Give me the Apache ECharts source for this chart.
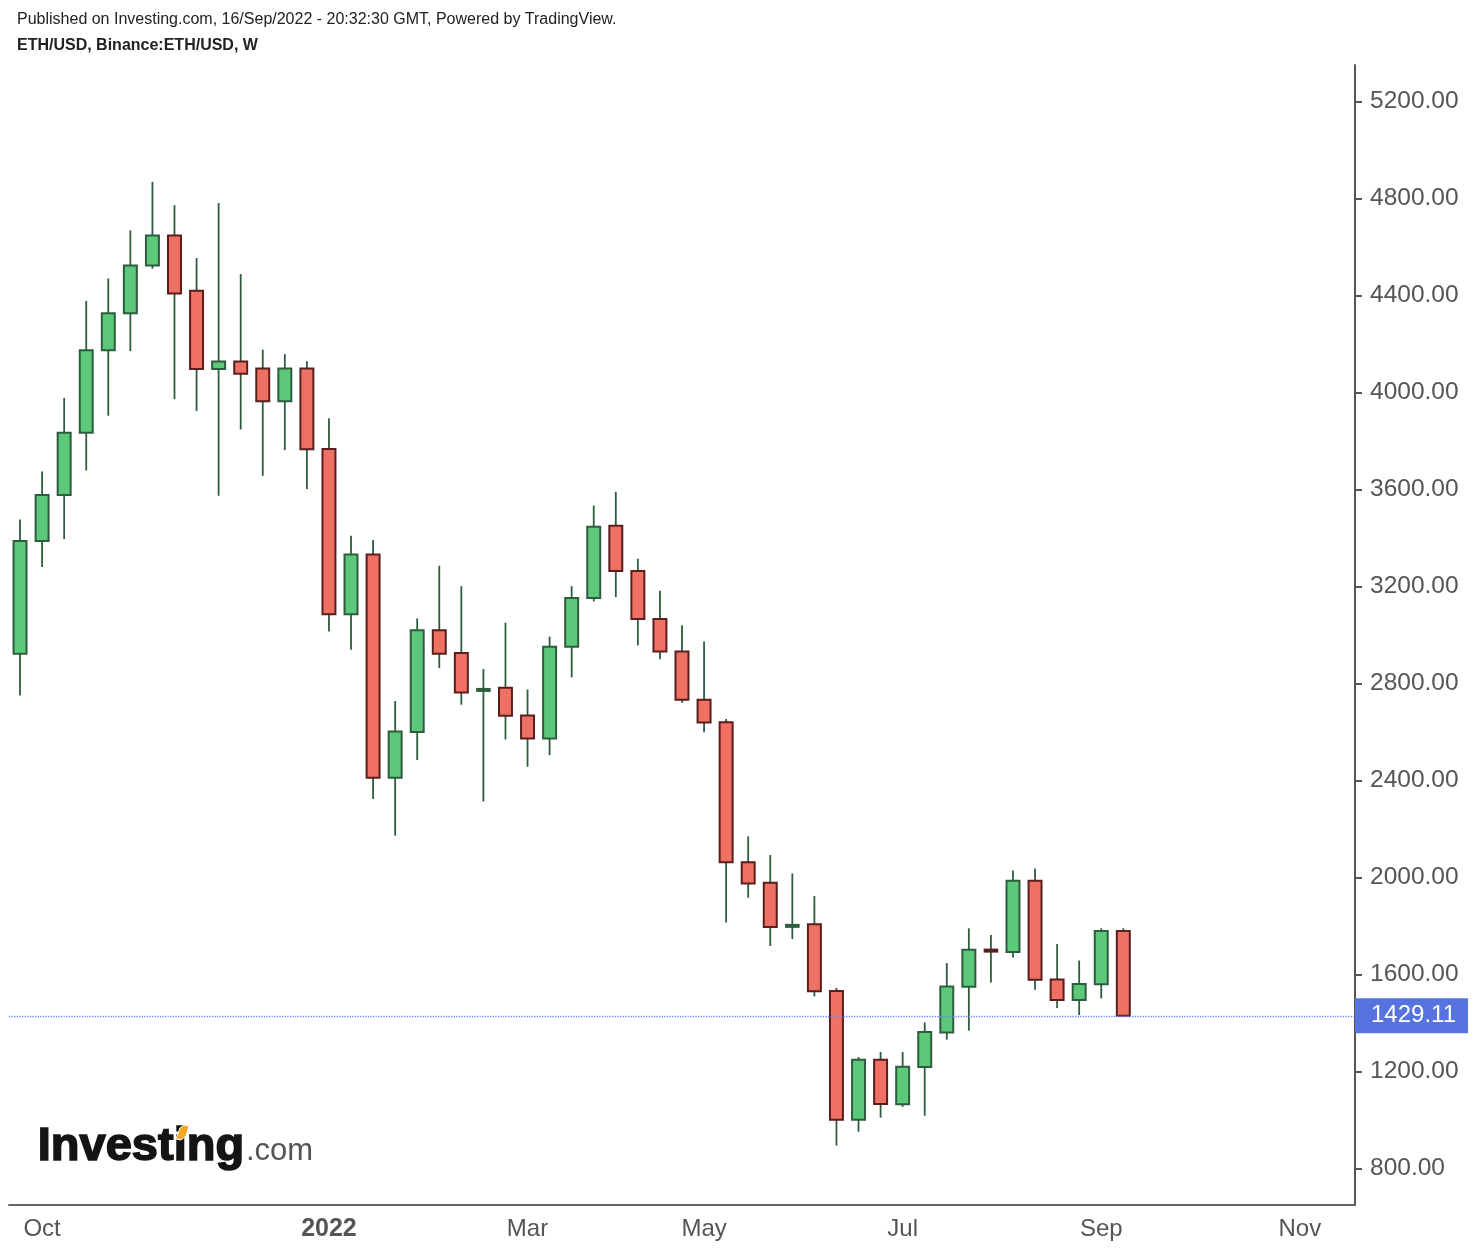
<!DOCTYPE html>
<html>
<head>
<meta charset="utf-8">
<script src="https://cdn.jsdelivr.net/npm/echarts@6/dist/echarts.min.js"></script>
<style>
html,body{margin:0;padding:0;background:#fff;}
#chart{width:1478px;height:1252px;}
</style>
</head>
<body>
<div id="chart"></div>
<script>
// Weekly categories (Monday of each week)
const weeks = [
 '2021-09-27','2021-10-04','2021-10-11','2021-10-18','2021-10-25','2021-11-01','2021-11-08','2021-11-15','2021-11-22','2021-11-29',
 '2021-12-06','2021-12-13','2021-12-20','2021-12-27','2022-01-03','2022-01-10','2022-01-17','2022-01-24','2022-01-31','2022-02-07',
 '2022-02-14','2022-02-21','2022-02-28','2022-03-07','2022-03-14','2022-03-21','2022-03-28','2022-04-04','2022-04-11','2022-04-18',
 '2022-04-25','2022-05-02','2022-05-09','2022-05-16','2022-05-23','2022-05-30','2022-06-06','2022-06-13','2022-06-20','2022-06-27',
 '2022-07-04','2022-07-11','2022-07-18','2022-07-25','2022-08-01','2022-08-08','2022-08-15','2022-08-22','2022-08-29','2022-09-05',
 '2022-09-12','2022-09-19','2022-09-26','2022-10-03','2022-10-10','2022-10-17','2022-10-24','2022-10-31','2022-11-07','2022-11-14',
 '2022-11-21'
];
// OHLC values (weekly ETH/USD)
const opens  = [2922,3387,3577,3833,4174,4326,4523,4647,4419,4096,4127,4098,3963,4098,3766,3085,3331,2411,2599,3019,2925,2770,2782,2668,2573,2951,3152,3450,3263,3065,2931,2733,2640,2062,1978,1795,1807,1531,1001,1248,1064,1218,1360,1549,1702,1692,1986,1579,1494,1559,1779];
const highs  = [3476,3674,3977,4377,4470,4668,4868,4772,4554,4781,4488,4176,4158,4129,3893,3409,3391,2727,3068,3285,3201,2859,3050,2775,2993,3201,3533,3590,3314,3182,3040,2973,2653,2169,2092,2016,1923,1544,1259,1280,1280,1402,1647,1790,1762,2028,2037,1725,1657,1790,1790];
const lows   = [2750,3280,3395,3678,3904,4170,4510,3972,3923,3574,3847,3656,3762,3601,3014,2939,2323,2172,2484,2863,2712,2313,2569,2456,2504,2825,3138,3156,2957,2900,2720,2598,1814,1916,1717,1746,1509,894,951,1009,1054,1017,1331,1368,1567,1670,1537,1461,1432,1501,1429.11];
const closes = [3387,3577,3833,4174,4326,4523,4647,4408,4096,4127,4077,3963,4098,3765,3085,3331,2411,2602,3019,2922,2762,2776,2667,2573,2951,3152,3446,3263,3065,2931,2733,2639,2062,1975,1795,1805,1530,1001,1248,1065,1219,1362,1550,1702,1694,1986,1578,1494,1560,1779,1429.11];
const lastPrice = 1429.11;
const yTicks = [800,1200,1600,2000,2400,2800,3200,3600,4000,4400,4800,5200];
const xTickLabels = {'2021-10-04':'Oct','2022-01-03':'2022','2022-03-07':'Mar','2022-05-02':'May','2022-07-04':'Jul','2022-09-05':'Sep','2022-11-07':'Nov'};

const UP_FILL='#5BC87A', UP_BORDER='#2E5C3E', DN_FILL='#EE7163', DN_BORDER='#5A1E1E', WICK='#2E5C3E';

const candleData = opens.map((o,i)=>[i,o,closes[i],lows[i],highs[i]]);

function renderCandle(params, api){
  const i=api.value(0), o=api.value(1), c=api.value(2), l=api.value(3), h=api.value(4);
  const pO=api.coord([i,o]), pC=api.coord([i,c]), pL=api.coord([i,l]), pH=api.coord([i,h]);
  const w=api.size([1,0])[0]*0.66;
  const up=c>=o;
  const x=pO[0];
  let top=Math.min(pO[1],pC[1]), bot=Math.max(pO[1],pC[1]);
  const children=[{
    type:'line', shape:{x1:x,y1:pH[1],x2:x,y2:pL[1]},
    style:{stroke:WICK,lineWidth:1.8}
  }];
  if(bot-top<3){
    const m=(top+bot)/2;
    children.push({type:'rect',shape:{x:x-w/2,y:m-2,width:w,height:4},style:{fill:up?UP_BORDER:DN_BORDER}});
  } else {
    children.push({type:'rect',shape:{x:x-w/2+0.8,y:top,width:w-1.6,height:bot-top},
      style:{fill:up?UP_FILL:DN_FILL,stroke:up?UP_BORDER:DN_BORDER,lineWidth:2}});
  }
  return {type:'group',children};
}

const chart=echarts.init(document.getElementById('chart'),null,{renderer:'canvas'});
const FONT='Liberation Sans, Arial, sans-serif';
chart.setOption({
  animation:false,
  backgroundColor:'#fff',
  textStyle:{fontFamily:FONT},
  grid:{left:9,right:123,top:65,bottom:47,containLabel:false},
  xAxis:{
    type:'category', data:weeks, boundaryGap:true,
    axisLine:{lineStyle:{color:'#666',width:2}},
    axisTick:{alignWithLabel:true,length:6,interval:(idx,val)=>xTickLabels[val]!==undefined,lineStyle:{color:'#666',width:2}},
    axisLabel:{interval:(idx,val)=>xTickLabels[val]!==undefined,
      formatter:(val)=> val==='2022-01-03' ? '{b|2022}' : (xTickLabels[val]||''),
      color:'#555',fontSize:24,margin:12,fontFamily:FONT,
      rich:{b:{fontWeight:'bold',fontSize:25,color:'#555',fontFamily:FONT}}},
    splitLine:{show:false}
  },
  yAxis:{
    type:'value', position:'right', min:649, max:5350, scale:true,
    axisLine:{show:true,lineStyle:{color:'#555',width:2}},
    axisTick:{show:true,length:7,customValues:yTicks,lineStyle:{color:'#555',width:2}},
    axisLabel:{customValues:yTicks,formatter:v=>v.toFixed(2),color:'#555',fontSize:24.5,margin:15,fontFamily:FONT},
    splitLine:{show:false}
  },
  series:[{
    type:'custom', data:candleData, renderItem:renderCandle,
    encode:{x:0,y:[1,2,3,4]},
    markLine:{
      silent:true, symbol:['none','none'],
      lineStyle:{type:'dotted',color:'#6d87f2',width:1.3},
      label:{show:true,position:'end',distance:0,formatter:()=>lastPrice.toFixed(2),
        color:'#fff',backgroundColor:'#5673E0',fontSize:24,fontFamily:FONT,padding:[6,12,5,16]},
      data:[{yAxis:lastPrice}]
    }
  }],
  graphic:[
    {type:'text',left:17,top:12,style:{text:'Published on Investing.com, 16/Sep/2022 - 20:32:30 GMT, Powered by TradingView.',fontSize:16,fill:'#222',fontFamily:FONT}},
    {type:'text',left:17,top:38,style:{text:'ETH/USD, Binance:ETH/USD, W',fontSize:16,fontWeight:'bold',fill:'#222',fontFamily:FONT}},
    {type:'text',left:37,top:1123,style:{text:'Investing',fontSize:47,fontWeight:'bold',fill:'#141414',stroke:'#141414',lineWidth:1.6,fontFamily:FONT}},
    {type:'text',left:246,top:1136,style:{text:'.com',fontSize:31,fill:'#555',fontFamily:FONT}},
    {type:'polygon',z:100,shape:{points:[[176,1139],[180,1128],[184,1125],[189,1126],[186,1136],[181,1140]]},style:{fill:'#F5A623',stroke:'#fff',lineWidth:1}}
  ]
});
</script>
</body>
</html>
